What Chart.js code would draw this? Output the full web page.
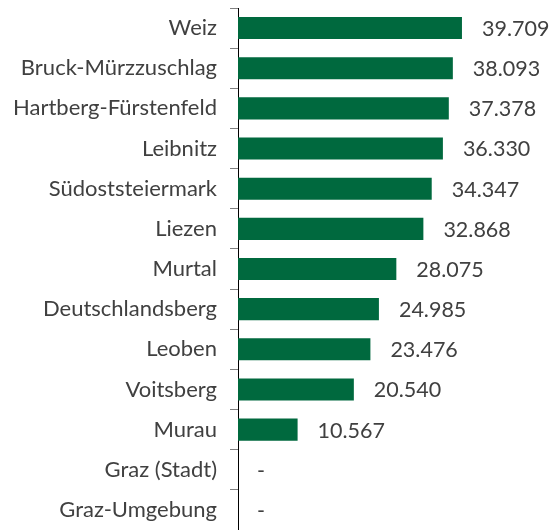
<!DOCTYPE html>
<html>
<head>
<meta charset="utf-8">
<script src="https://cdn.jsdelivr.net/npm/chart.js@4"></script>
<style>
  body { margin: 0; background: #fff; }
  #wrap { width: 551px; height: 530px; }
</style>
</head>
<body>
<div id="wrap"><canvas id="barChart" width="551" height="530"></canvas></div>
<script>
// Bezirke (districts) and their values; Graz ones have no value
const districts = ['Weiz', 'Bruck-Mürzzuschlag', 'Hartberg-Fürstenfeld', 'Leibnitz', 'Südoststeiermark',
  'Liezen', 'Murtal', 'Deutschlandsberg', 'Leoben', 'Voitsberg', 'Murau', 'Graz (Stadt)', 'Graz-Umgebung'];
const values = [39709, 38093, 37378, 36330, 34347, 32868, 28075, 24985, 23476, 20540, 10567, null, null];

const fmt = v => v == null ? '-' : v.toLocaleString('de-DE');

// value labels next to each bar
const valueLabels = {
  id: 'valueLabels',
  afterDatasetsDraw(chart) {
    const ctx = chart.ctx;
    const meta = chart.getDatasetMeta(0);
    const xs = chart.scales.x;
    ctx.save();
    ctx.font = '21.5px Lato, "Open Sans", sans-serif';
    ctx.fillStyle = '#404040';
    ctx.textBaseline = 'middle';
    meta.data.forEach((bar, i) => {
      const v = values[i];
      const x = v == null ? xs.getPixelForValue(0) + 19 : bar.x + 20;
      ctx.fillText(fmt(v), x, bar.y + 1);
    });
    ctx.restore();
  }
};

new Chart(document.getElementById('barChart'), {
  type: 'bar',
  data: {
    labels: districts,
    datasets: [{
      data: values,
      backgroundColor: '#00693e',
      barPercentage: 0.55,
      categoryPercentage: 1
    }]
  },
  options: {
    indexAxis: 'y',
    responsive: false,
    animation: false,
    layout: { padding: { top: 8, right: 31, bottom: 0, left: 0 } },
    plugins: { legend: { display: false }, tooltip: { enabled: false } },
    scales: {
      x: { display: false, min: 0, max: 50000 },
      y: {
        afterFit(scale) {
          scale.width = 238;
          scale.paddingTop = 0;
          scale.paddingBottom = 0;
        },
        border: { color: '#000', width: 1 },
        grid: { drawOnChartArea: false, offset: true, tickLength: 8, color: '#808080' },
        ticks: { color: '#404040', padding: 13, font: { family: 'Lato, "Open Sans", sans-serif', size: 22 } }
      }
    }
  },
  plugins: [valueLabels]
});
</script>
</body>
</html>
